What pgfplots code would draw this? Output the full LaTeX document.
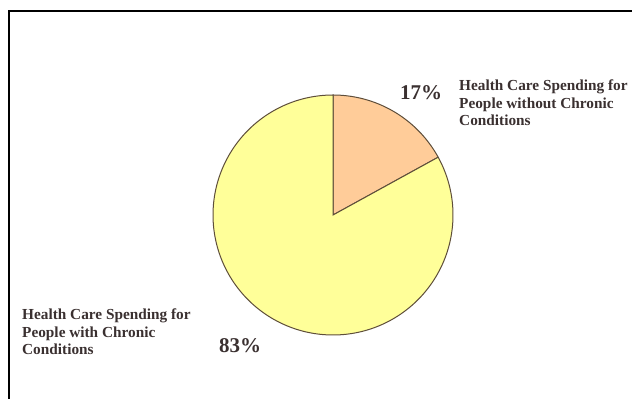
\documentclass[border=0pt]{standalone}
\usepackage{fontspec}
\setmainfont{Liberation Serif}
\usepackage{pgfplots}
\usepackage{pgfplotstable}
\pgfplotsset{compat=1.18}
\definecolor{peach}{HTML}{FFCC99}
\definecolor{paleyellow}{HTML}{FFFF99}
\definecolor{edgec}{HTML}{5E4E3A}
\definecolor{txt}{HTML}{3A3030}
\pgfplotstableread{
label value
without 17
with 83
}\piedata
\pgfplotstablegetelem{0}{value}\of\piedata
\let\va\pgfplotsretval
\pgfplotstablegetelem{1}{value}\of\piedata
\let\vb\pgfplotsretval
\pgfmathsetmacro\angA{90-3.6*\va}
\pgfmathsetmacro\angB{\angA-3.6*\vb}
\begin{document}
\begin{tikzpicture}
\useasboundingbox (0,0) rectangle (632pt,399pt);
\fill[white] (0,0) rectangle (632pt,399pt);
\begin{axis}[
  at={(0,0)}, anchor=south west,
  width=632pt, height=399pt, scale only axis,
  xmin=0, xmax=632, ymin=0, ymax=399,
  hide axis, clip=false,
]
\addplot[fill=peach, draw=edgec, line width=1pt, domain=90:\angA, samples=60, variable=\t]
  ({333+120*cos(\t)}, {184+120*sin(\t)}) -- (axis cs:333,184) -- cycle;
\addplot[fill=paleyellow, draw=edgec, line width=1pt, domain=\angA:\angB, samples=200, variable=\t]
  ({333+120*cos(\t)}, {184+120*sin(\t)}) -- (axis cs:333,184) -- cycle;
\draw[line width=2pt, black] (axis cs:9,0) -- (axis cs:9,388) -- (axis cs:632,388);
\begin{scope}[every node/.style={anchor=base west, inner sep=0pt, text=txt, font=\fontsize{15.3}{18}\selectfont\bfseries}]
\node at (axis cs:459,308) {Health Care Spending for};
\node at (axis cs:459,290.5) {People without Chronic};
\node at (axis cs:459,273) {Conditions};
\node at (axis cs:22,79) {Health Care Spending for};
\node at (axis cs:22,61.5) {People with Chronic};
\node at (axis cs:22,44) {Conditions};
\end{scope}
\begin{scope}[every node/.style={anchor=base west, inner sep=0pt, text=txt, font=\fontsize{21}{24}\selectfont\bfseries}]
\node at (axis cs:400,299) {17\%};
\node at (axis cs:219,46) {83\%};
\end{scope}
\end{axis}
\end{tikzpicture}
\end{document}
